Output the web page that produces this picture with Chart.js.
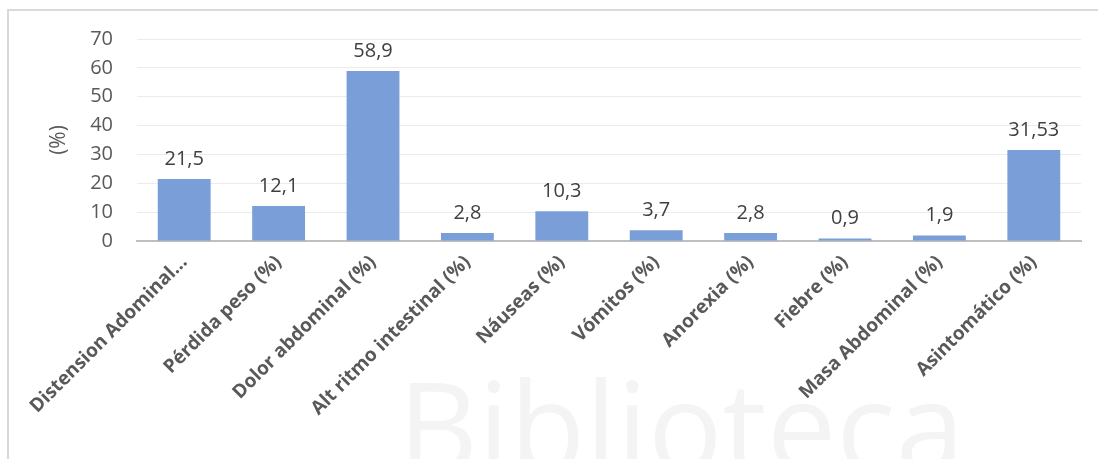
<!DOCTYPE html>
<html>
<head>
<meta charset="utf-8">
<script src="https://cdn.jsdelivr.net/npm/chart.js@4"></script>
<style>
    body { margin: 0; background: #fff; }
    #wrap { position: relative; width: 1098px; height: 459px; overflow: hidden; }
    #frame {
        position: absolute; left: 7px; top: 9px; width: 1200px; height: 600px;
        border: 2px solid #D9D9D9; box-sizing: border-box;
    }
    canvas { position: absolute; left: 0; top: 0; }
</style>
</head>
<body>
<div id="wrap">
    <div id="frame"></div>
    <canvas id="chart" width="1098" height="459"></canvas>
</div>
<script>
// datos
const categorias = [
    'Distension Adominal...',
    'Pérdida peso (%)',
    'Dolor abdominal (%)',
    'Alt ritmo intestinal (%)',
    'Náuseas (%)',
    'Vómitos (%)',
    'Anorexia (%)',
    'Fiebre (%)',
    'Masa Abdominal (%)',
    'Asintomático (%)'
];
const valores = [21.5, 12.1, 58.9, 2.8, 10.3, 3.7, 2.8, 0.9, 1.9, 31.53];
const etiquetas = ['21,5', '12,1', '58,9', '2,8', '10,3', '3,7', '2,8', '0,9', '1,9', '31,53'];
const ticksY = [0, 10, 20, 30, 40, 50, 60, 70];

const FUENTE = '"Open Sans", "Liberation Sans", sans-serif';

// marca de agua de fondo
const marcaAgua = {
    id: 'marcaAgua',
    beforeDraw(chart) {
        const ctx = chart.ctx;
        ctx.save();
        ctx.fillStyle = 'rgba(0,0,0,0.045)';
        ctx.font = '124px ' + FUENTE;
        ctx.textBaseline = 'alphabetic';
        ctx.fillText('Biblioteca', 398, 472);
        ctx.restore();
    }
};

// etiquetas de datos sobre cada barra
const etiquetasDatos = {
    id: 'etiquetasDatos',
    afterDatasetsDraw(chart) {
        const ctx = chart.ctx;
        const meta = chart.getDatasetMeta(0);
        ctx.save();
        ctx.fillStyle = '#404040';
        ctx.font = '20px ' + FUENTE;
        ctx.textAlign = 'center';
        ctx.textBaseline = 'bottom';
        meta.data.forEach((bar, i) => {
            ctx.fillText(etiquetas[i], bar.x, bar.y - 10);
        });
        ctx.restore();
    }
};

new Chart(document.getElementById('chart'), {
    type: 'bar',
    data: {
        labels: categorias,
        datasets: [{
            data: valores,
            backgroundColor: '#7A9ED8',
            borderWidth: 0,
            barPercentage: 0.56,
            categoryPercentage: 1
        }]
    },
    options: {
        responsive: false,
        animation: false,
        layout: { padding: { left: 46, top: 39, right: 17, bottom: 0 } },
        plugins: {
            legend: { display: false },
            tooltip: { enabled: false }
        },
        scales: {
            x: {
                grid: { display: false },
                border: { color: '#BFBFBF', width: 2 },
                ticks: {
                    color: '#595959',
                    font: { family: FUENTE, size: 19, weight: 'bold' },
                    minRotation: 45,
                    maxRotation: 45,
                    autoSkip: false,
                    padding: 2
                },
                afterFit(s) { s.height = 218; }
            },
            y: {
                min: 0,
                max: 70,
                afterBuildTicks(s) { s.ticks = ticksY.map(v => ({ value: v })); },
                grid: { color: '#EBEBEB', lineWidth: 1, drawTicks: false },
                border: { display: false },
                ticks: {
                    color: '#595959',
                    font: { family: FUENTE, size: 20 },
                    padding: 24
                },
                title: {
                    display: true,
                    text: '(%)',
                    color: '#595959',
                    font: { family: FUENTE, size: 21 },
                    padding: { top: 0, bottom: 0 }
                },
                afterFit(s) { s.width = 91; }
            }
        }
    },
    plugins: [marcaAgua, etiquetasDatos]
});
</script>
</body>
</html>
